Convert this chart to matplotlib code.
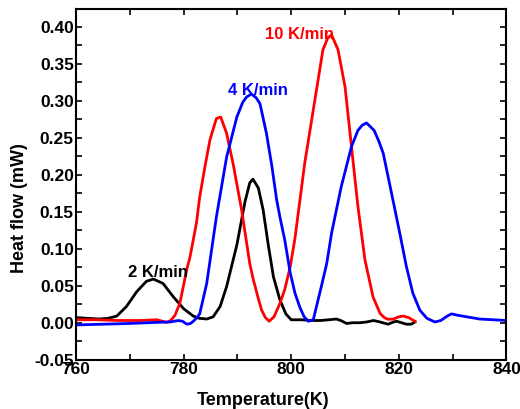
import matplotlib
matplotlib.use("Agg")
import matplotlib.pyplot as plt
from matplotlib.ticker import MultipleLocator, FormatStrFormatter

# ---- data ----
T_2K = [760, 762, 764.3, 766, 767.6, 769.4, 771.3, 773.1, 774.4, 776.2, 778.1, 780.0,
        781.8, 782.9, 784.3, 785.5, 786.8, 788.0, 789.9, 791.4, 792.3, 792.9, 793.9,
        794.8, 795.7, 796.7, 797.9, 799.0, 800.0, 801.9, 803.5, 805.5, 807.0, 808.4,
        809.2, 810.3, 811.5, 812.8, 814.0, 815.3, 816.5, 818.0, 819.0, 819.6, 820.5,
        821.4, 822.3, 823.0]
y_2K = [0.007, 0.006, 0.005, 0.006, 0.009, 0.022, 0.042, 0.056, 0.059, 0.053, 0.035, 0.019,
        0.009, 0.006, 0.005, 0.008, 0.022, 0.049, 0.105, 0.163, 0.189, 0.194, 0.182,
        0.152, 0.107, 0.062, 0.031, 0.012, 0.004, 0.004, 0.003, 0.003, 0.004, 0.005,
        0.003, -0.001, 0.0, 0.0, 0.001, 0.003, 0.001, -0.002, 0.001, 0.002, 0.0,
        -0.002, -0.002, 0.001]

T_10K = [760, 764, 768, 772, 775.0, 776.9, 777.6, 778.4, 779.3, 780.6, 781.2, 782.4, 783.0,
         784.0, 784.9, 786.1, 786.9, 788.0, 789.2, 790.8, 792.3, 792.9, 793.8, 794.5,
         795.2, 795.9, 796.8, 797.9, 798.8, 799.8, 800.7, 802.5, 804.4, 805.9, 806.8,
         807.5, 808.7, 810.0, 811.2, 812.4, 813.7, 815.2, 816.5, 817.3, 818.0, 819.0,
         820.0, 820.8, 821.8, 822.5, 823.0]
y_10K = [0.004, 0.004, 0.003, 0.003, 0.004, 0.0005, 0.003, 0.010, 0.026, 0.072, 0.089, 0.135, 0.170,
         0.212, 0.247, 0.276, 0.278, 0.256, 0.215, 0.152, 0.080, 0.060, 0.035, 0.017,
         0.007, 0.002, 0.008, 0.026, 0.045, 0.075, 0.114, 0.215, 0.301, 0.369, 0.385,
         0.389, 0.369, 0.319, 0.238, 0.157, 0.085, 0.035, 0.0127, 0.007, 0.0046, 0.005,
         0.008, 0.009, 0.007, 0.004, 0.002]

T_4K = [760, 765, 770, 775, 777.5, 779, 779.8, 780.6, 781.3, 781.8, 782.4, 783.0, 784.3,
        786.1, 788.0, 789.9, 791.0, 791.7, 792.6, 793.5, 794.2, 795.4, 796.4, 797.3,
        797.9, 798.8, 799.8, 800.7, 801.6, 802.4, 803.2, 804.1, 805.6, 806.6, 807.5,
        809.3, 811.2, 812.4, 813.2, 814.0, 815.4, 816.3, 817.1, 818.9, 820.2, 821.4,
        822.6, 823.9, 825.2, 826.7, 827.8, 829.0, 829.8, 831.0, 832.6, 835, 837.5, 840]
y_4K = [-0.003, -0.002, -0.001, 0.0005, 0.001, 0.003, 0.002, -0.002, -0.001, 0.002, 0.006,
        0.012, 0.053, 0.143, 0.224, 0.278, 0.298, 0.305, 0.309, 0.304, 0.296, 0.256, 0.212,
        0.166, 0.143, 0.112, 0.068, 0.040, 0.021, 0.008, 0.002, 0.004, 0.049, 0.080, 0.121,
        0.184, 0.238, 0.260, 0.267, 0.270, 0.260, 0.245, 0.229, 0.166, 0.120, 0.076,
        0.040, 0.017, 0.006, 0.001, 0.003, 0.009, 0.012, 0.010, 0.008, 0.005, 0.004, 0.003]

labels = ["2 K/min", "4 K/min", "10 K/min"]
label_pos = [(775.2, 0.0676), (793.9, 0.314), (801.6, 0.390)]
colors = ["black", "#0000FF", "#FF0000"]

x_ticks = [760, 780, 800, 820, 840]
y_ticks = [-0.05, 0.00, 0.05, 0.10, 0.15, 0.20, 0.25, 0.30, 0.35, 0.40]

plt.rcParams['font.family'] = ['Liberation Sans', 'DejaVu Sans']
plt.rcParams['font.weight'] = 'bold'

fig = plt.figure(figsize=(5.2, 4.09), dpi=100)
ax = fig.add_axes([0.146, 0.1205, 0.828, 0.8575])

ax.plot(T_2K, y_2K, color=colors[0], lw=2.0)
ax.plot(T_10K, y_10K, color=colors[2], lw=2.0)
ax.plot(T_4K, y_4K, color=colors[1], lw=2.0)

for lab, (tx, ty), c in zip(labels, label_pos, colors):
    ax.text(tx, ty, lab, color=c, fontsize=12, fontweight='bold',
            ha='center', va='center')

ax.set_xlim(760, 840)
ax.set_ylim(-0.05, 0.424)
ax.set_xticks(x_ticks)
ax.set_yticks(y_ticks)
ax.xaxis.set_minor_locator(MultipleLocator(10))
ax.yaxis.set_minor_locator(MultipleLocator(0.025))
ax.yaxis.set_major_formatter(FormatStrFormatter('%.2f'))

ax.tick_params(which='both', direction='in', top=True, right=True, width=1.2)
ax.tick_params(which='major', length=4)
ax.tick_params(which='minor', length=4)
ax.tick_params(axis='x', which='major', labelsize=12.5, pad=2)
ax.tick_params(axis='y', which='major', labelsize=12.5, pad=1.5)
for lab in ax.get_xticklabels() + ax.get_yticklabels():
    lab.set_fontweight('bold')

for sp in ax.spines.values():
    sp.set_linewidth(1.5)

ax.set_xlabel("Temperature(K)", fontsize=13, fontweight='bold', va='center')
ax.xaxis.set_label_coords(0.434, -0.115)
ax.set_ylabel("Heat flow (mW)", fontsize=13, fontweight='bold', va='center', ha='center')
ax.yaxis.set_label_coords(-0.132, 0.433)

fig.savefig("out.png", dpi=100)
